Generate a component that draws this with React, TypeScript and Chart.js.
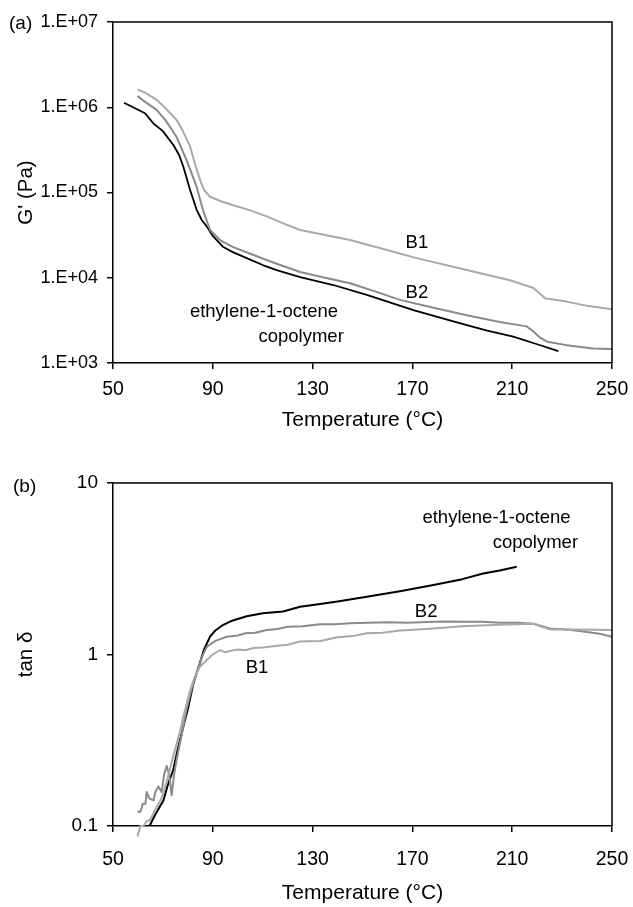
import React, { useEffect, useRef } from 'react';
import { Chart, registerables } from 'chart.js';

Chart.register(...registerables);

const FONT = "'Liberation Sans', Arial, Helvetica, sans-serif";

// ---- axes ----
const xTicks = [50, 90, 130, 170, 210, 250];
const gTickValues = [1e3, 1e4, 1e5, 1e6, 1e7];
const gTickLabels = ['1.E+03', '1.E+04', '1.E+05', '1.E+06', '1.E+07'];
const tanTickValues = [0.1, 1, 10];
const tanTickLabels = ['0.1', '1', '10'];

// ---- panel (a): G' (Pa) ----
const tempCopA = [54.4, 58, 62.8, 66.2, 70, 74.2, 76.5, 78.2, 80.9, 83.5, 85.5, 87.6, 90, 94.2, 98, 103.6, 110, 115.6, 125, 138.3, 151.7, 160, 170.4, 180, 191.8, 200, 210.4, 220, 228.5];
const gCop = [1.13e6, 1.0e6, 8.51e5, 6.46e5, 5.25e5, 3.61e5, 2.75e5, 2.0e5, 1.07e5, 6.31e4, 4.79e4, 3.98e4, 3.09e4, 2.29e4, 2.0e4, 1.70e4, 1.41e4, 1.23e4, 1.02e4, 8.22e3, 6.31e3, 5.25e3, 4.17e3, 3.47e3, 2.79e3, 2.40e3, 2.04e3, 1.66e3, 1.38e3];

const tempB2A = [59.8, 63, 67.5, 71, 75.5, 79.5, 83.5, 86, 88.9, 93, 98.2, 105, 114.2, 125, 135, 145, 155, 165, 178, 191.8, 205, 215.8, 218.5, 221, 224, 231.8, 242.5, 250];
const gB2 = [1.35e6, 1.15e6, 9.33e5, 7.08e5, 4.47e5, 2.4e5, 1.17e5, 6.31e4, 3.63e4, 2.75e4, 2.29e4, 1.91e4, 1.51e4, 1.17e4, 1.0e4, 8.61e3, 6.92e3, 5.5e3, 4.47e3, 3.63e3, 3.02e3, 2.69e3, 2.34e3, 2.0e3, 1.78e3, 1.62e3, 1.48e3, 1.46e3];

const tempB1A = [59.8, 63, 67.5, 71, 75.5, 78, 80.9, 83, 84.9, 86.5, 88.9, 93, 98.2, 105, 111.6, 118, 125, 145, 158, 171.7, 191.8, 209.1, 218.5, 223.2, 231.8, 240, 250];
const gB1 = [1.62e6, 1.48e6, 1.22e6, 9.77e5, 7.08e5, 5.25e5, 3.47e5, 2.09e5, 1.41e5, 1.07e5, 8.91e4, 7.94e4, 7.08e4, 6.17e4, 5.25e4, 4.37e4, 3.63e4, 2.77e4, 2.19e4, 1.70e4, 1.23e4, 9.33e3, 7.59e3, 5.75e3, 5.25e3, 4.68e3, 4.27e3];

// ---- panel (b): tan delta ----
const tempCopB = [64.8, 67, 70.2, 72, 74.2, 76, 78.2, 80, 82.2, 84.9, 86.5, 88.9, 91, 94.2, 98, 103.6, 110, 118.2, 125, 133, 140, 151.7, 165, 178.4, 190, 198.4, 205, 211.8];
const tanCop = [0.101, 0.117, 0.141, 0.174, 0.214, 0.282, 0.38, 0.479, 0.676, 0.9, 1.07, 1.27, 1.38, 1.49, 1.58, 1.67, 1.74, 1.78, 1.9, 1.97, 2.04, 2.17, 2.34, 2.54, 2.75, 2.97, 3.09, 3.25];

const tempB2B = [59.8, 61, 62, 63, 63.5, 64.5, 66.2, 67, 68.2, 69.5, 70.5, 71.5, 72.5, 73.5, 74.5, 75.5, 77.5, 79.5, 81.5, 83.5, 85.5, 87.6, 91, 95.6, 100, 103, 107, 111.6, 116, 120, 126, 133, 139, 145, 152, 160, 168, 178.4, 185, 190, 198, 205, 212, 218.5, 222, 225.2, 232, 238.5, 245, 250];
const tanB2 = [0.121, 0.121, 0.135, 0.135, 0.158, 0.145, 0.141, 0.158, 0.17, 0.158, 0.2, 0.224, 0.2, 0.151, 0.2, 0.243, 0.339, 0.479, 0.631, 0.776, 0.955, 1.11, 1.2, 1.27, 1.29, 1.33, 1.34, 1.39, 1.41, 1.45, 1.46, 1.5, 1.5, 1.52, 1.53, 1.54, 1.53, 1.55, 1.56, 1.55, 1.55, 1.53, 1.53, 1.51, 1.46, 1.42, 1.4, 1.36, 1.32, 1.27];

const tempB1B = [59.8, 61, 62.2, 63.5, 64.8, 66, 67.5, 69, 70.2, 71.5, 72.8, 74, 75.5, 77, 78.2, 79.5, 80.9, 82.5, 84.9, 87.6, 90, 92.9, 95, 97, 100, 103, 106.2, 110, 115, 120, 125, 133, 140, 146, 151.7, 158, 165, 172, 178.4, 190, 205, 212, 218.5, 222, 225.2, 235, 250];
const tanB1 = [0.087, 0.1, 0.1, 0.107, 0.108, 0.117, 0.129, 0.141, 0.155, 0.182, 0.214, 0.251, 0.302, 0.363, 0.437, 0.513, 0.617, 0.724, 0.851, 0.929, 1.0, 1.06, 1.03, 1.05, 1.07, 1.06, 1.09, 1.1, 1.12, 1.14, 1.19, 1.2, 1.26, 1.28, 1.33, 1.34, 1.38, 1.4, 1.42, 1.46, 1.49, 1.5, 1.51, 1.45, 1.4, 1.4, 1.39];

const toPoints = (xs: number[], ys: number[]) => xs.map((x, i) => ({ x, y: ys[i] }));

type Note = { text: string; x: number; y: number };

function makeOverlay(panelLabel: string, lx: number, ly: number, notes: Note[]) {
  return {
    id: 'overlay',
    afterDatasetsDraw(chart: any) {
      const { ctx, chartArea: a, scales } = chart;
      ctx.save();
      ctx.strokeStyle = '#000';
      ctx.lineWidth = 1.5;
      ctx.beginPath();
      ctx.moveTo(a.left, a.top);
      ctx.lineTo(a.right, a.top);
      ctx.lineTo(a.right, a.bottom);
      ctx.stroke();
      ctx.fillStyle = '#000';
      ctx.textBaseline = 'middle';
      ctx.textAlign = 'center';
      ctx.font = `18.5px ${FONT}`;
      notes.forEach((n) => {
        ctx.fillText(n.text, scales.x.getPixelForValue(n.x), scales.y.getPixelForValue(n.y));
      });
      ctx.font = `19px ${FONT}`;
      ctx.textAlign = 'left';
      ctx.fillText(panelLabel, lx, ly);
      ctx.restore();
    },
  };
}

function buildConfig(opts: {
  datasets: any[];
  yMin: number;
  yMax: number;
  yTickValues: number[];
  yTickLabels: string[];
  yTitle: string;
  yTickSize: number;
  padTop: number;
  xHeight: number;
  xTickPad: number;
  xTitlePadBottom: number;
  overlay: any;
}) {
  return {
    type: 'line' as const,
    data: { datasets: opts.datasets },
    plugins: [opts.overlay],
    options: {
      animation: false,
      responsive: false,
      events: [],
      layout: { padding: { top: opts.padTop, right: 21, left: 0, bottom: 0 } },
      plugins: { legend: { display: false }, tooltip: { enabled: false } },
      elements: { point: { radius: 0 }, line: { tension: 0, borderJoinStyle: 'round' } },
      scales: {
        x: {
          type: 'linear',
          min: 50,
          max: 250,
          afterBuildTicks: (s: any) => {
            s.ticks = xTicks.map((v) => ({ value: v }));
          },
          afterFit: (s: any) => {
            s.height = opts.xHeight;
            s.paddingLeft = 0;
            s.paddingRight = 0;
          },
          ticks: { color: '#000', padding: opts.xTickPad, font: { family: FONT, size: 19.5 }, maxRotation: 0 },
          grid: { display: true, drawOnChartArea: false, drawTicks: true, tickLength: 6, color: '#000', lineWidth: 1.5 },
          border: { display: true, color: '#000', width: 1.5 },
          title: {
            display: true,
            text: 'Temperature (°C)',
            color: '#000',
            font: { family: FONT, size: 21 },
            padding: { top: 0, bottom: opts.xTitlePadBottom },
          },
        },
        y: {
          type: 'logarithmic',
          min: opts.yMin,
          max: opts.yMax,
          afterBuildTicks: (s: any) => {
            s.ticks = opts.yTickValues.map((v) => ({ value: v, major: true }));
          },
          afterFit: (s: any) => {
            s.width = 113;
            s.paddingTop = 0;
            s.paddingBottom = 0;
          },
          ticks: {
            color: '#000',
            padding: 9,
            font: { family: FONT, size: opts.yTickSize },
            callback: (v: any) => {
              const i = opts.yTickValues.findIndex((t) => Math.abs(t - v) / t < 1e-6);
              return i >= 0 ? opts.yTickLabels[i] : '';
            },
          },
          grid: { display: true, drawOnChartArea: false, drawTicks: true, tickLength: 6, color: '#000', lineWidth: 1.5 },
          border: { display: true, color: '#000', width: 1.5 },
          title: {
            display: true,
            text: opts.yTitle,
            color: '#000',
            font: { family: FONT, size: 20.5 },
            padding: { top: 14, bottom: 0 },
          },
        },
      },
    },
  };
}

const lineDs = (data: any[], color: string, width: number, clip: any = undefined) => ({
  data,
  borderColor: color,
  backgroundColor: color,
  borderWidth: width,
  pointRadius: 0,
  fill: false,
  ...(clip !== undefined ? { clip } : {}),
});

export default function App() {
  const refA = useRef<HTMLCanvasElement>(null);
  const refB = useRef<HTMLCanvasElement>(null);

  useEffect(() => {
    const cfgA = buildConfig({
      datasets: [
        lineDs(toPoints(tempB1A, gB1), '#a9a9a9', 2),
        lineDs(toPoints(tempB2A, gB2), '#8a8a8a', 2),
        lineDs(toPoints(tempCopA, gCop), '#000000', 1.8),
      ],
      yMin: 1e3,
      yMax: 1e7,
      yTickValues: gTickValues,
      yTickLabels: gTickLabels,
      yTitle: "G' (Pa)",
      yTickSize: 18,
      padTop: 22,
      xHeight: 90,
      xTickPad: 9,
      xTitlePadBottom: 20,
      overlay: makeOverlay('(a)', 9, 24, [
        { text: 'B1', x: 171.8, y: 2.56e4 },
        { text: 'B2', x: 171.8, y: 6.62e3 },
        { text: 'ethylene-1-octene', x: 110.5, y: 4.0e3 },
        { text: 'copolymer', x: 125.4, y: 2.04e3 },
      ]),
    });
    const cfgB = buildConfig({
      datasets: [
        lineDs(toPoints(tempB1B, tanB1), '#a9a9a9', 2, false),
        lineDs(toPoints(tempB2B, tanB2), '#8a8a8a', 2),
        lineDs(toPoints(tempCopB, tanCop), '#000000', 2),
      ],
      yMin: 0.1,
      yMax: 10,
      yTickValues: tanTickValues,
      yTickLabels: tanTickLabels,
      yTitle: 'tan δ',
      yTickSize: 19,
      padTop: 30,
      xHeight: 81,
      xTickPad: 16,
      xTitlePadBottom: 1,
      overlay: makeOverlay('(b)', 13, 34, [
        { text: 'ethylene-1-octene', x: 203.7, y: 6.25 },
        { text: 'copolymer', x: 219.3, y: 4.47 },
        { text: 'B2', x: 175.5, y: 1.78 },
        { text: 'B1', x: 107.7, y: 0.834 },
      ]),
    });
    const a = new Chart(refA.current as HTMLCanvasElement, cfgA as any);
    const b = new Chart(refB.current as HTMLCanvasElement, cfgB as any);
    return () => {
      a.destroy();
      b.destroy();
    };
  }, []);

  return (
    <div style={{ position: 'absolute', left: 0, top: 0, width: 633, height: 907, background: '#fff' }}>
      <canvas ref={refA} width={633} height={453} style={{ position: 'absolute', left: 0, top: 0, display: 'block' }} />
      <canvas ref={refB} width={633} height={454} style={{ position: 'absolute', left: 0, top: 453, display: 'block' }} />
    </div>
  );
}
